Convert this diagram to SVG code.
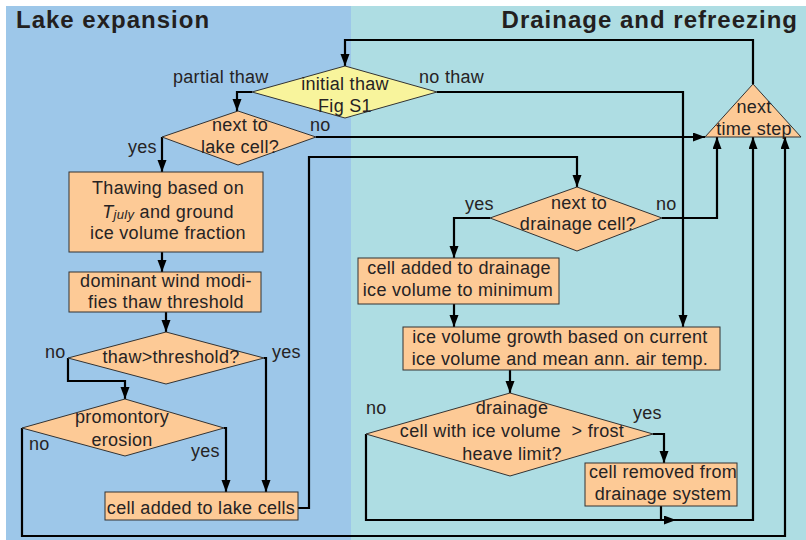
<svg xmlns="http://www.w3.org/2000/svg" width="806" height="540" viewBox="0 0 806 540">
<defs>
<marker id="ah" markerUnits="userSpaceOnUse" markerWidth="12" markerHeight="10" refX="12" refY="4.5" orient="auto">
<path d="M0,0 L12,4.5 L0,9 z" fill="#000"/>
</marker>
<style>
.t{font-family:"Liberation Sans",Arial,sans-serif;font-size:18px;letter-spacing:0.3px;fill:#262324}
.m{text-anchor:middle}
.h{font-family:"Liberation Sans",Arial,sans-serif;font-size:24px;font-weight:bold;letter-spacing:1px;fill:#231f20}
.box{fill:#fdca96;stroke:#333;stroke-width:1}
.yel{fill:#f8f49c;stroke:#333;stroke-width:1}
.c{fill:none;stroke:#000;stroke-width:2.2;marker-end:url(#ah)}
.cn{fill:none;stroke:#000;stroke-width:2.2}
</style>
</defs>
<rect x="0" y="0" width="806" height="540" fill="#fff"/>
<rect x="6" y="6" width="345" height="534" fill="#9dc7e9"/>
<rect x="351" y="6" width="455" height="534" fill="#aedde3"/>
<text class="h" x="16" y="28">Lake expansion</text>
<text class="h" x="798" y="28" text-anchor="end">Drainage and refreezing</text>

<g id="connectors">
<path class="c" d="M753,84 V40 H345 V66"/>
<path class="c" d="M252,92 H237 V111"/>
<path class="c" d="M437,92 H683 V327"/>
<path class="c" d="M316,137 H705"/>
<path class="c" d="M162,137 V172"/>
<path class="c" d="M162,252 V272"/>
<path class="c" d="M166,312 V332"/>
<path class="c" d="M68,358 V381 H125 V399"/>
<path class="c" d="M264,358 H266 V492"/>
<path class="c" d="M224,428 H226 V492"/>
<path class="c" d="M22,428 V536 H785 V137"/>
<path class="c" d="M298,508 H309 V157 H577 V187"/>
<path class="c" d="M662,218 H717 V137"/>
<path class="c" d="M490,218 H454 V258"/>
<path class="c" d="M454,304 V327"/>
<path class="c" d="M510,370 V393"/>
<path class="c" d="M653,434 H664 V463"/>
<path class="c" d="M366,434 V520 H753 V137"/>
<path class="c" d="M661,506 V520 H676"/>
</g>

<g id="initial-thaw">
<polygon class="yel" points="252,92 345,66 437,92 345,118"/>
<text class="t m" x="345" y="90">initial thaw</text>
<text class="t m" x="345" y="112">Fig S1</text>
</g>
<g id="labels-initial">
<text class="t" x="173" y="83">partial thaw</text>
<text class="t" x="419" y="83">no thaw</text>
</g>
<g id="next-time-step">
<polygon class="box" points="753,84 801,137 705,137"/>
<text class="t m" x="754" y="113">next</text>
<text class="t m" x="754" y="135">time step</text>
</g>
<g id="next-to-lake">
<polygon class="box" points="162,137 238,111 316,137 238,165"/>
<text class="t m" x="240" y="131">next to</text>
<text class="t m" x="240" y="153">lake cell?</text>
<text class="t" x="310" y="131">no</text>
<text class="t" x="128" y="153">yes</text>
</g>
<g id="thawing">
<rect class="box" x="69" y="172" width="194" height="80"/>
<text class="t m" x="168" y="194">Thawing based on</text>
<text class="t m" x="168" y="218"><tspan font-style="italic">T</tspan><tspan font-style="italic" font-size="13" dy="1">july</tspan><tspan dy="-1"> and ground</tspan></text>
<text class="t m" x="168" y="239">ice volume fraction</text>
</g>
<g id="dominant-wind">
<rect class="box" x="69" y="272" width="192" height="40"/>
<text class="t m" x="166" y="287">dominant wind modi-</text>
<text class="t m" x="166" y="308">fies thaw threshold</text>
</g>
<g id="thaw-threshold">
<polygon class="box" points="68,358 166,332 264,358 166,384"/>
<text class="t m" x="171" y="363">thaw&gt;threshold?</text>
<text class="t" x="45" y="358">no</text>
<text class="t" x="272" y="358">yes</text>
</g>
<g id="promontory">
<polygon class="box" points="22,428 125,399 224,428 125,456"/>
<text class="t m" x="122" y="423">promontory</text>
<text class="t m" x="122" y="446">erosion</text>
<text class="t" x="29" y="450">no</text>
<text class="t" x="191" y="457">yes</text>
</g>
<g id="lake-cells">
<rect class="box" x="105" y="492" width="193" height="28"/>
<text class="t m" x="201" y="514">cell added to lake cells</text>
</g>
<g id="next-to-drainage">
<polygon class="box" points="490,218 577,187 662,218 577,251"/>
<text class="t m" x="579" y="209">next to</text>
<text class="t m" x="578" y="230">drainage cell?</text>
<text class="t" x="465" y="210">yes</text>
<text class="t" x="656" y="210">no</text>
</g>
<g id="added-drainage">
<rect class="box" x="358" y="258" width="201" height="46"/>
<text class="t m" x="459" y="274">cell added to drainage</text>
<text class="t m" x="458" y="296">ice volume to minimum</text>
</g>
<g id="ice-growth">
<rect class="box" x="403" y="327" width="317" height="43"/>
<text class="t m" x="560" y="343">ice volume growth based on current</text>
<text class="t m" x="560" y="365">ice volume and mean ann. air temp.</text>
</g>
<g id="drainage-check">
<polygon class="box" points="366,434 510,393 653,434 510,476"/>
<text class="t m" x="512" y="414">drainage</text>
<text class="t m" x="512" y="437" style="white-space:pre">cell with ice volume  &gt; frost</text>
<text class="t m" x="512" y="460">heave limit?</text>
<text class="t" x="366" y="414">no</text>
<text class="t" x="633" y="419">yes</text>
</g>
<g id="cell-removed">
<rect class="box" x="585" y="463" width="152" height="43"/>
<text class="t m" x="663" y="478">cell removed from</text>
<text class="t m" x="663" y="500">drainage system</text>
</g>
</svg>
